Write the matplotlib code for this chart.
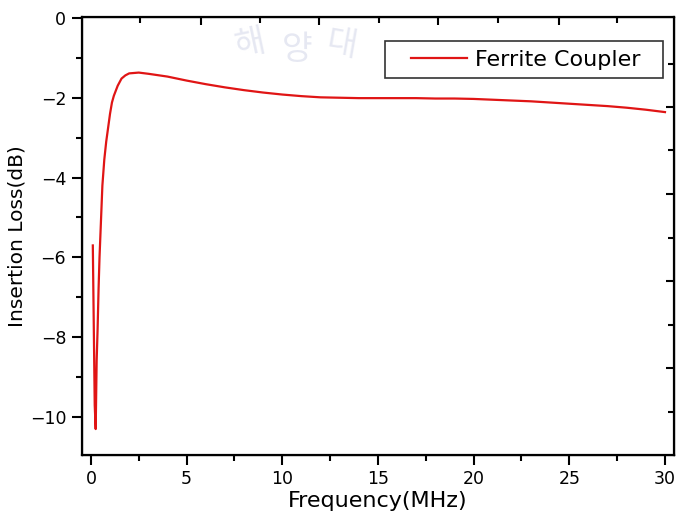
import matplotlib
matplotlib.use("Agg")
import matplotlib.pyplot as plt
from matplotlib.ticker import MultipleLocator
from matplotlib.legend_handler import HandlerLine2D

plt.rcParams['font.family'] = ['DejaVu Sans']

freq = [0.1, 0.2, 0.25, 0.3, 0.35, 0.4, 0.45, 0.5, 0.6, 0.7, 0.8, 0.9, 1.0, 1.1,
        1.2, 1.4, 1.6, 1.8, 2.0, 2.5, 3.0, 4.0, 5.0, 6.0, 7.0, 8.0, 9.0, 10.0,
        11.0, 12.0, 13.0, 14.0, 15.0, 16.0, 17.0, 18.0, 19.0, 20.0, 21.0, 22.0,
        23.0, 24.0, 25.0, 26.0, 27.0, 28.0, 29.0, 30.0]
loss = [-5.7, -9.7, -10.3, -8.6, -7.8, -6.8, -6.0, -5.4, -4.2, -3.55, -3.1, -2.75,
        -2.4, -2.12, -1.95, -1.7, -1.52, -1.44, -1.39, -1.37, -1.40, -1.47,
        -1.57, -1.66, -1.74, -1.81, -1.87, -1.92, -1.96, -1.99, -2.0, -2.01,
        -2.01, -2.01, -2.01, -2.02, -2.02, -2.03, -2.05, -2.07, -2.09, -2.12,
        -2.15, -2.18, -2.21, -2.25, -2.30, -2.36]

# odd frame ticks on top/right (frame axes of the original)
top_major = [5.73, 11.92, 18.16, 24.45]
top_minor = [2.59, 8.82, 15.07, 21.3, 27.5]
right_major = [-2.22, -4.4, -6.6, -8.77]
right_minor = [-1.15, -3.32, -5.52, -7.7, -9.87]

fig = plt.figure(figsize=(6.76, 5.18), dpi=100)

# faint watermark of the source repository
for ch, x, y, r in [("해", 0.37, 0.915, 12), ("양", 0.44, 0.905, 0), ("대", 0.505, 0.915, -10)]:
    fig.text(x, y, ch, family=['Noto Sans CJK KR'], fontsize=24, color='#e6e8f2',
             ha='center', va='center', rotation=r, zorder=0)

ax = fig.add_axes([0.1206, 0.1216, 0.997 - 0.1206, 0.967 - 0.1216])
ax.patch.set_alpha(0)

ax.plot(freq, loss, color="#e01515", lw=1.6, label="Ferrite Coupler  ")
ax.set_xlim(-0.49, 30.47)
ax.set_ylim(-10.95, 0.02)

ax.xaxis.set_major_locator(MultipleLocator(5))
ax.xaxis.set_minor_locator(MultipleLocator(2.5))
ax.yaxis.set_major_locator(MultipleLocator(2))
ax.yaxis.set_minor_locator(MultipleLocator(1))
ax.tick_params(which='major', direction='out', length=7, width=1.5, labelsize=12.5, pad=4)
ax.tick_params(which='minor', direction='out', length=4, width=1.5)
for s in ax.spines.values():
    s.set_linewidth(1.6)

ax.set_xlabel("Frequency(MHz)", fontsize=16, labelpad=2)
ax.set_ylabel("Insertion Loss(dB)", fontsize=14.5, labelpad=2)

tx = ax.twiny()
tx.set_xlim(ax.get_xlim())
tx.set_xticks(top_major)
tx.set_xticks(top_minor, minor=True)
tx.tick_params(which='both', direction='in', labeltop=False, width=1.5)
tx.tick_params(which='major', length=6)
tx.tick_params(which='minor', length=4)

ry = ax.twinx()
ry.set_ylim(ax.get_ylim())
ry.set_yticks(right_major)
ry.set_yticks(right_minor, minor=True)
ry.tick_params(which='both', direction='in', labelright=False, width=1.5)
ry.tick_params(which='major', length=6)
ry.tick_params(which='minor', length=4)

leg = ax.legend(loc='upper right', bbox_to_anchor=(0.981, 0.945), borderaxespad=0,
                fontsize=16, frameon=True, fancybox=False, handlelength=3.3,
                borderpad=0.38, handletextpad=0.36,
                handler_map={ax.lines[0]: HandlerLine2D(xpad=0.82)})
leg.get_frame().set_edgecolor("#333333")
leg.get_frame().set_linewidth(1.2)
leg.get_frame().set_alpha(1)

fig.savefig("out.png", dpi=100)
